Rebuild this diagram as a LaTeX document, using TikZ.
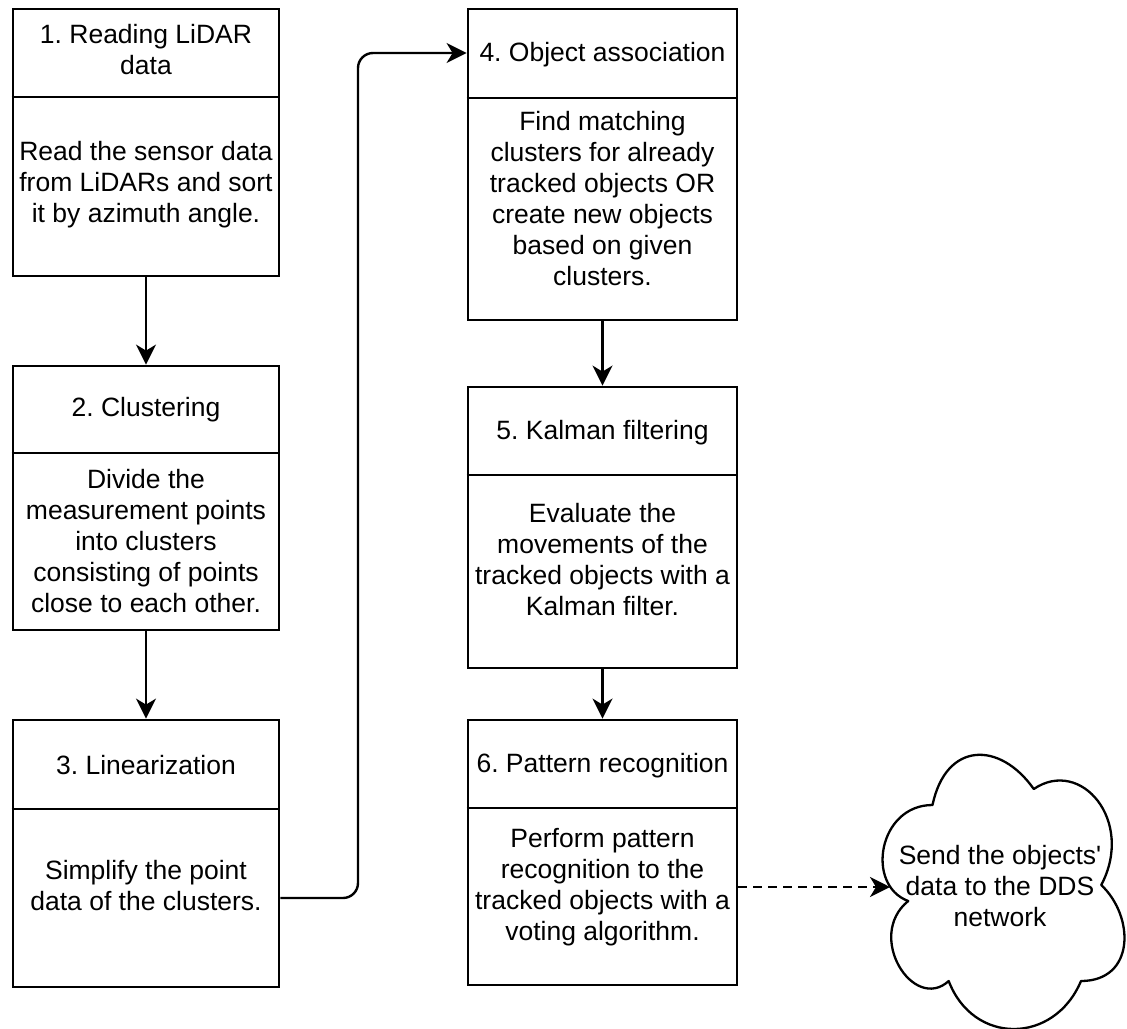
\documentclass[tikz,border=0pt]{standalone}
\usepackage{fontspec}
\setmainfont{Liberation Sans}
\usetikzlibrary{arrows.meta}
\frenchspacing

\tikzset{
  stepbox/.style={draw, line width=2.8pt, rectangle, inner sep=0pt, fill=white},
  divider/.style={line width=2.8pt},
  label/.style={align=center, inner sep=0pt, font=\fontsize{26.5}{31}\selectfont},
  flow/.style={line width=2.4pt, -{Stealth[length=20pt, width=20pt, inset=6pt]}},
  cloudline/.style={line width=2.3pt, line join=round},
}

\begin{document}
\begin{tikzpicture}[x=1pt, y=-1pt]
  \useasboundingbox (0,0) rectangle (1127,1028);
  \fill[white] (0,0) rectangle (1127,1028);

  % left column of steps
  \node[stepbox, minimum width=266, minimum height=267] (b1) at (146,142.5) {};
  \draw[divider] (b1.west |- 0,97) -- (b1.east |- 0,97);
  \node[label] (h1) at (146,50) {1. Reading LiDAR\\data};
  \node[label] (t1) at (146,185) {Read the sensor data\\from LiDARs and sort\\it by azimuth angle.};

  \node[stepbox, minimum width=266, minimum height=264] (b2) at (146,498) {};
  \draw[divider] (b2.west |- 0,453) -- (b2.east |- 0,453);
  \node[label] (h2) at (146,410) {2. Clustering};
  \node[label] (t2) at (146,541) {Divide the\\measurement points\\into clusters\\consisting of points\\close to each other.};

  \node[stepbox, minimum width=266, minimum height=267] (b3) at (146,853.5) {};
  \draw[divider] (b3.west |- 0,809) -- (b3.east |- 0,809);
  \node[label] (h3) at (146,765) {3. Linearization};
  \node[label] (t3) at (146,886) {Simplify the point\\data of the clusters.};

  % right column of steps
  \node[stepbox, minimum width=269, minimum height=311] (b4) at (602.5,164.5) {};
  \draw[divider] (b4.west |- 0,98) -- (b4.east |- 0,98);
  \node[label] (h4) at (602.5,55) {4. Object association};
  \node[label] (t4) at (602.5,199) {Find matching\\clusters for already\\tracked objects OR\\create new objects\\based on given\\clusters.};

  \node[stepbox, minimum width=269, minimum height=281] (b5) at (602.5,527.5) {};
  \draw[divider] (b5.west |- 0,475) -- (b5.east |- 0,475);
  \node[label] (h5) at (602.5,433) {5. Kalman filtering};
  \node[label] (t5) at (602.5,560) {Evaluate the\\movements of the\\tracked objects with a\\Kalman filter.};

  \node[stepbox, minimum width=269, minimum height=265] (b6) at (602.5,852.5) {};
  \draw[divider] (b6.west |- 0,808) -- (b6.east |- 0,808);
  \node[label] (h6) at (602.5,766) {6. Pattern recognition};
  \node[label] (t6) at (602.5,887) {Perform pattern\\recognition to the\\tracked objects with a\\voting algorithm.};

  % cloud for the network output
  \begin{scope}[shift={(865,725)}, x=270pt, y=-320pt]
    \draw[cloudline, fill=white]
      (0.25,0.25) .. controls (0.05,0.25) and (0,0.5) .. (0.16,0.55)
      .. controls (0,0.66) and (0.18,0.9) .. (0.31,0.8)
      .. controls (0.4,1) and (0.7,1) .. (0.8,0.8)
      .. controls (1,0.8) and (1,0.6) .. (0.875,0.5)
      .. controls (1,0.3) and (0.8,0.1) .. (0.625,0.2)
      .. controls (0.5,0.05) and (0.3,0.05) .. (0.25,0.25) -- cycle;
  \end{scope}
  \coordinate (cin) at (890,887);
  \node[label] (ct) at (1000,886) {Send the objects\textquotesingle\\data to the DDS\\network};

  % connectors
  \draw[flow] (b1) -- (b2);
  \draw[flow] (b2) -- (b3);
  \draw[flow] (b4) -- (b5);
  \draw[flow] (b5) -- (b6);
  \coordinate (up1) at (358,898);
  \coordinate (up2) at (358,53);
  \draw[flow, rounded corners=15pt] (b3.east |- up1) -- (up1) -- (up2) -- (b4.west |- up2);
  \draw[flow, dash pattern=on 9pt off 6pt] (b6.east |- cin) -- (cin);
\end{tikzpicture}
\end{document}
